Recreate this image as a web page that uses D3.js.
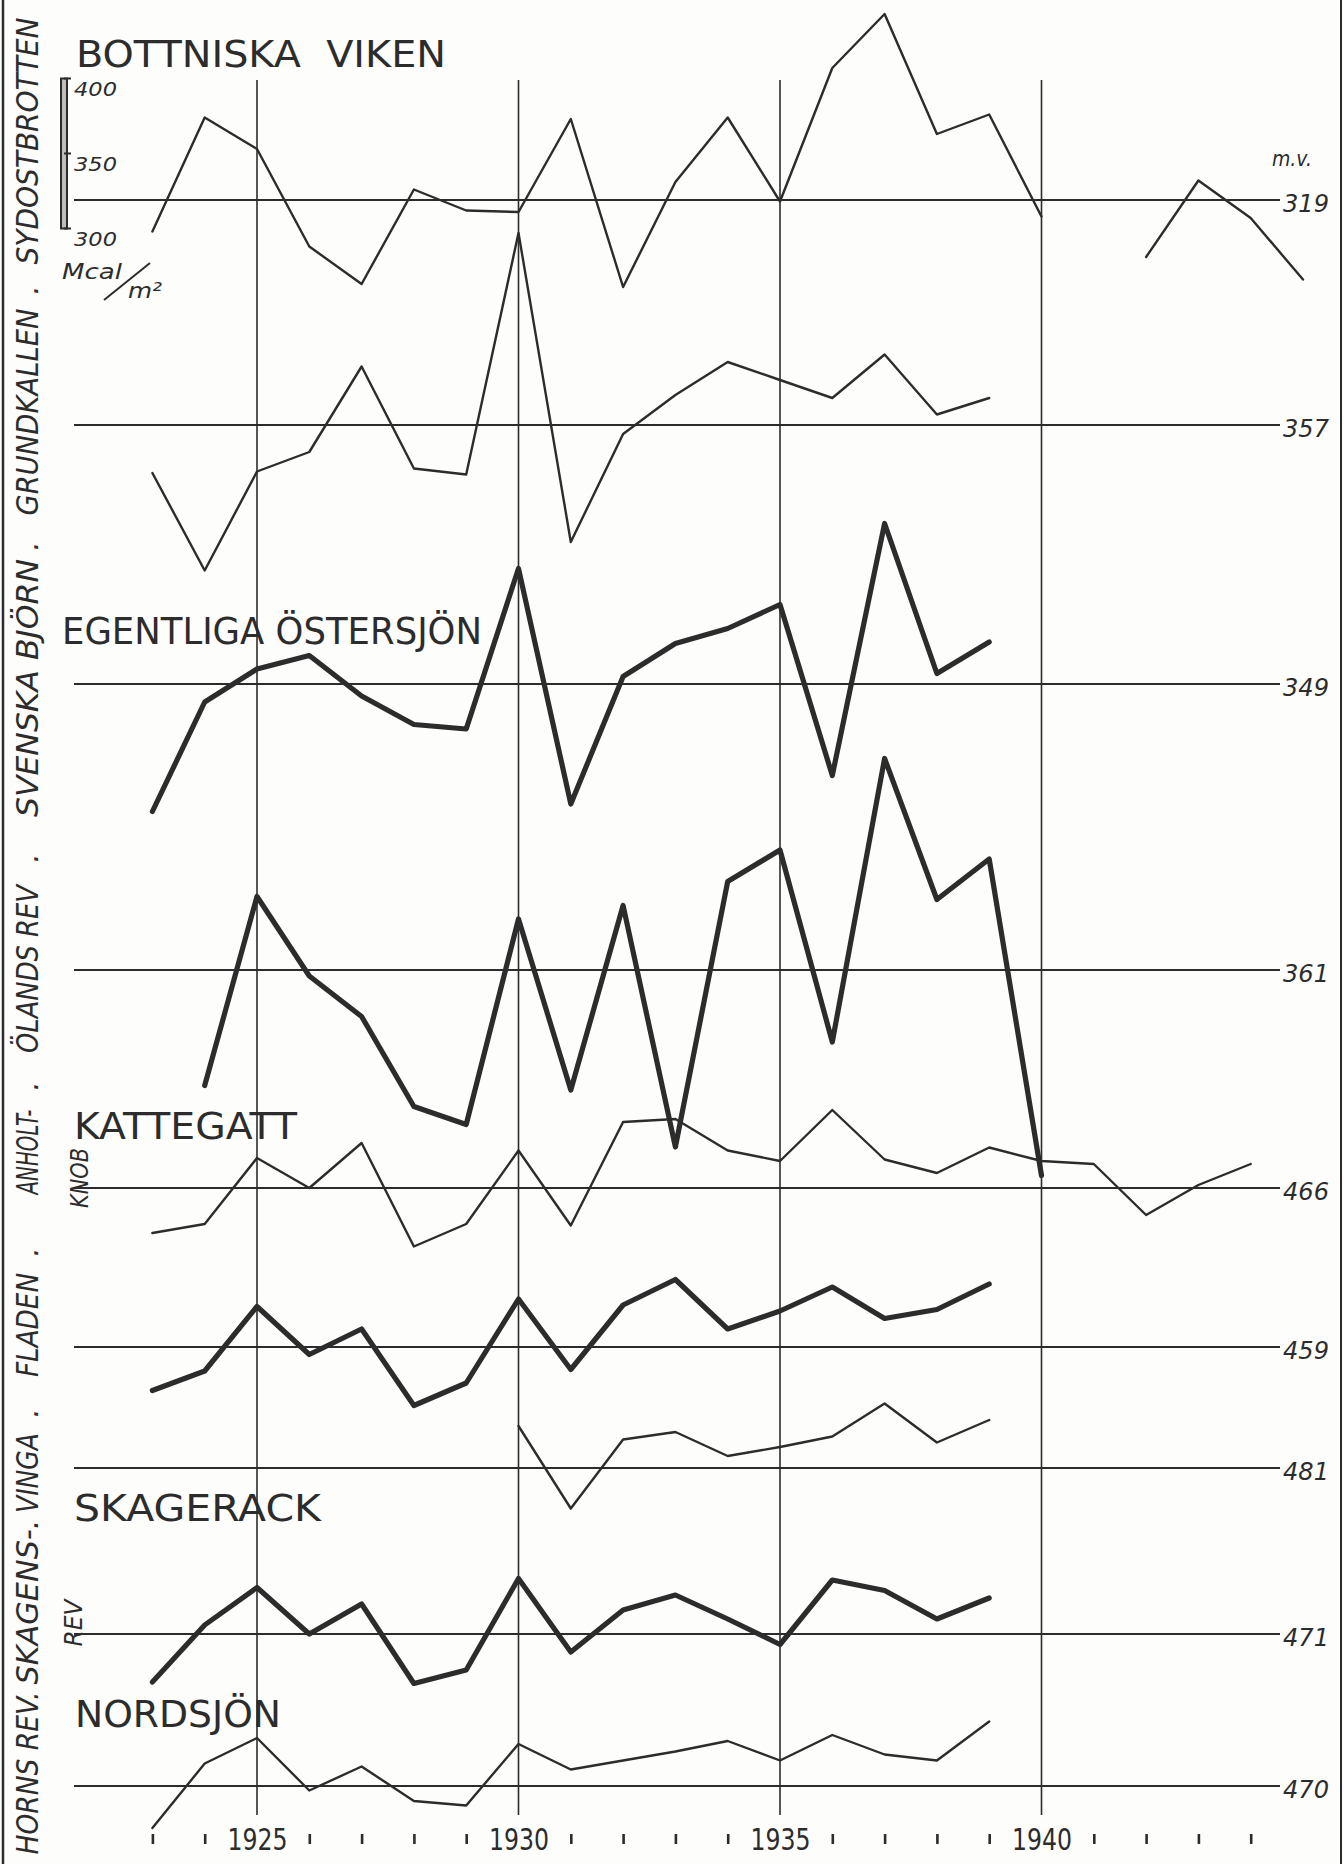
<!DOCTYPE html>
<html>
<head>
<meta charset="utf-8">
<title>Värmeinnehåll Mcal/m²</title>
<script src="https://cdn.jsdelivr.net/npm/d3@7"></script>
<style>
  html, body { margin: 0; padding: 0; background: #fdfdfc; }
  svg { display: block; }
  text { font-family: "DejaVu Sans", "Liberation Sans", sans-serif; fill: #2c2c2c; }
</style>
</head>
<body>
<svg id="chart" width="1344" height="1864"></svg>
<script>
// ---- data: heat content (Mcal/m²) per station and year ----
const stationNames = ["SYDOSTBROTTEN", "GRUNDKALLEN", "SVENSKA BJÖRN", "ÖLANDS REV", "ANHOLT-KNOB",
                      "FLADEN", "VINGA", "SKAGENS-REV", "HORNS REV"];
const meanValues = [319, 357, 349, 361, 466, 459, 481, 471, 470];   // m.v. for each station
const firstYears = [1923, 1923, 1923, 1924, 1923, 1923, 1930, 1923, 1923];

const sydostbrotten = [298, 374, 353, 288, 263, 326, 312, 311, 373, 261, 331, 374, 318, 407, 443, 363, 376, 308, null, 281, 332, 307, 266]; // 1923–1945
const grundkallen   = [325, 260, 326, 339, 396, 328, 324, 485, 279, 351, 377, 399, 387, 375, 404, 364, 375];            // 1923–1939
const svenskaBjorn  = [264, 337, 359, 368, 341, 322, 319, 426, 269, 354, 376, 386, 402, 288, 456, 356, 377];            // 1923–1939
const olandsRev     = [284, 410, 357, 330, 270, 258, 395, 281, 404, 243, 420, 441, 313, 502, 408, 435, 224];            // 1924–1940
const anholtKnob    = [436, 442, 486, 466, 496, 427, 442, 491, 441, 510, 512, 491, 484, 518, 485, 476, 493, 484, 482, 448, 468, 482]; // 1923–1944
const fladen        = [430, 443, 486, 454, 471, 420, 435, 491, 444, 487, 504, 471, 483, 499, 478, 484, 501];            // 1923–1939
const vinga         = [509, 454, 500, 505, 489, 495, 502, 524, 498, 513];                                               // 1930–1939
const skagensRev    = [439, 477, 502, 471, 491, 438, 447, 508, 459, 487, 497, 481, 464, 507, 500, 481, 495];            // 1923–1939
const hornsRev      = [442, 485, 502, 467, 483, 460, 457, 498, 481, 487, 493, 500, 487, 504, 491, 487, 513];            // 1923–1939

const seriesValues = [sydostbrotten, grundkallen, svenskaBjorn, olandsRev, anholtKnob, fladen, vinga, skagensRev, hornsRev];
const heavySeries = [false, false, true, true, false, true, false, true, false];

const regionTitles = ["BOTTNISKA  VIKEN", "EGENTLIGA ÖSTERSJÖN", "KATTEGATT", "SKAGERACK", "NORDSJÖN"];
const yearLabels = [1925, 1930, 1935, 1940];
const yearTicks = d3.range(1923, 1945).filter(y => !yearLabels.includes(y));
const scaleBarTicks = [300, 350, 400];

// ---- layout ----
const W = 1344, H = 1864;
const ink = "#2c2c2c";
const svg = d3.select("#chart");
svg.append("rect").attr("width", W).attr("height", H).attr("fill", "#fdfdfc");

const x = d3.scaleLinear().domain([1925, 1940]).range([257, 1041.5]);
const pxPerUnit = 1.5;
const panelBase = [200, 425, 684, 970, 1188, 1347, 1468, 1634, 1786];   // screen y of each station's mean line
const yScales = meanValues.map((m, i) =>
  d3.scaleLinear().domain([m, m + 100]).range([panelBase[i], panelBase[i] - 100 * pxPerUnit]));

// frame edges
svg.append("line").attr("x1", 3).attr("x2", 3).attr("y1", 0).attr("y2", H)
  .attr("stroke", ink).attr("stroke-width", 2.5);
svg.append("line").attr("x1", 1341).attr("x2", 1341).attr("y1", 0).attr("y2", H)
  .attr("stroke", ink).attr("stroke-width", 2);

// vertical year grid
svg.append("g").selectAll("line").data(yearLabels).join("line")
  .attr("x1", d => x(d)).attr("x2", d => x(d))
  .attr("y1", 80).attr("y2", 1815)
  .attr("stroke", ink).attr("stroke-width", 1.6);

// mean lines and their values
const lineStart = 74, lineEnd = 1280;
const means = svg.append("g");
meanValues.forEach((m, i) => {
  const yy = yScales[i](m);
  means.append("line").attr("x1", lineStart).attr("x2", lineEnd)
    .attr("y1", yy).attr("y2", yy).attr("stroke", ink).attr("stroke-width", 2.2);
  means.append("text").attr("x", 1283).attr("y", yy + 12)
    .attr("font-size", 25).attr("font-style", "italic")
    .attr("textLength", 46).attr("lengthAdjust", "spacingAndGlyphs")
    .text(m);
});
svg.append("text").attr("x", 1272).attr("y", yScales[0](meanValues[0]) - 34)
  .attr("font-size", 22).attr("font-style", "italic")
  .attr("textLength", 40).attr("lengthAdjust", "spacingAndGlyphs")
  .text("m.v.");

// series lines
const lines = svg.append("g").attr("fill", "none").attr("stroke", ink)
  .attr("stroke-linejoin", "round").attr("stroke-linecap", "round");
seriesValues.forEach((vals, i) => {
  const pts = vals.map((v, k) => ({ year: firstYears[i] + k, v }));
  const gen = d3.line().defined(d => d.v !== null)
    .x(d => x(d.year)).y(d => yScales[i](d.v));
  lines.append("path").datum(pts).attr("d", gen)
    .attr("stroke-width", heavySeries[i] ? 5.2 : 2.4);
});

// scale bar (300–400 Mcal/m²) beside the top panel
const ys0 = yScales[0];
const bar = svg.append("g").attr("stroke", ink);
bar.append("rect").attr("x", 61).attr("width", 6)
  .attr("y", ys0(400)).attr("height", ys0(300) - ys0(400))
  .attr("fill", "#bdbdbb").attr("stroke-width", 2);
bar.selectAll("line").data(scaleBarTicks).join("line")
  .attr("x1", 64).attr("x2", 71).attr("y1", d => ys0(d)).attr("y2", d => ys0(d))
  .attr("stroke-width", 2);
svg.append("g").selectAll("text").data(scaleBarTicks).join("text")
  .attr("x", 74).attr("y", d => ys0(d) + 17.5)
  .attr("font-size", 20).attr("font-style", "italic")
  .attr("textLength", 43).attr("lengthAdjust", "spacingAndGlyphs")
  .text(d => d);
svg.append("text").attr("x", 62).attr("y", 279).attr("font-size", 22).attr("font-style", "italic")
  .attr("textLength", 60).attr("lengthAdjust", "spacingAndGlyphs").text("Mcal");
svg.append("line").attr("x1", 104).attr("y1", 300).attr("x2", 150).attr("y2", 263)
  .attr("stroke", ink).attr("stroke-width", 2);
svg.append("text").attr("x", 128).attr("y", 298).attr("font-size", 21).attr("font-style", "italic")
  .attr("textLength", 34).attr("lengthAdjust", "spacingAndGlyphs").text("m²");

// region titles
const titlePos = [[76, 67, 370], [62, 644, 420], [74, 1139, 223], [74, 1521, 247], [75, 1727, 206]];
svg.append("g").selectAll("text").data(regionTitles).join("text")
  .attr("x", (d, i) => titlePos[i][0]).attr("y", (d, i) => titlePos[i][1])
  .attr("font-size", 37).style("white-space", "pre")
  .attr("textLength", (d, i) => titlePos[i][2]).attr("lengthAdjust", "spacingAndGlyphs")
  .text(d => d);

// station names along the left edge, reading upwards
const sideText = [
  { t: "SYDOSTBROTTEN", c: 141, len: 247, col: 0 },
  { t: ".", c: 290, col: 0 },
  { t: "GRUNDKALLEN", c: 412, len: 207, col: 0 },
  { t: ".", c: 546, col: 0 },
  { t: "SVENSKA BJÖRN", c: 688, len: 258, col: 0 },
  { t: ".", c: 858, col: 0 },
  { t: "ÖLANDS REV", c: 969, len: 168, col: 0 },
  { t: ".", c: 1086, col: 0 },
  { t: "ANHOLT-", c: 1152, len: 85, col: 0 },
  { t: "KNOB", c: 1178, len: 60, col: 1 },
  { t: ".", c: 1252, col: 0 },
  { t: "FLADEN", c: 1325, len: 104, col: 0 },
  { t: ".", c: 1413, col: 0 },
  { t: "VINGA", c: 1473, len: 80, col: 0 },
  { t: "SKAGENS-.", c: 1602, len: 165, col: 0 },
  { t: "REV", c: 1623, len: 47, col: 2 },
  { t: "HORNS REV.", c: 1773, len: 163, col: 0 }
];
const colX = [38, 88, 82], colSize = [30, 25, 25];
const side = svg.append("g");
sideText.forEach(s => {
  const tx = side.append("text")
    .attr("transform", `translate(${colX[s.col]},${s.c}) rotate(-90)`)
    .attr("text-anchor", "middle").attr("font-style", "italic")
    .attr("font-size", colSize[s.col]).text(s.t);
  if (s.len) tx.attr("textLength", s.len).attr("lengthAdjust", "spacingAndGlyphs");
});

// year axis: short marks for each year, numbers every fifth year
const tickAxis = d3.axisBottom(x).tickValues(yearTicks).tickSize(10).tickFormat("");
const gTicks = svg.append("g").attr("transform", "translate(0,1834)").call(tickAxis);
gTicks.select(".domain").remove();
gTicks.selectAll(".tick line").attr("stroke", ink).attr("stroke-width", 2.6);

const labelAxis = d3.axisBottom(x).tickValues(yearLabels).tickSize(0).tickFormat(d3.format("d"));
const gLabels = svg.append("g").attr("transform", "translate(0,1828)").call(labelAxis);
gLabels.select(".domain").remove();
gLabels.selectAll(".tick text")
  .attr("font-family", "DejaVu Sans, sans-serif").attr("font-size", 30).attr("fill", ink)
  .attr("dy", 0).attr("y", 22)
  .attr("textLength", 60).attr("lengthAdjust", "spacingAndGlyphs");
</script>
</body>
</html>
